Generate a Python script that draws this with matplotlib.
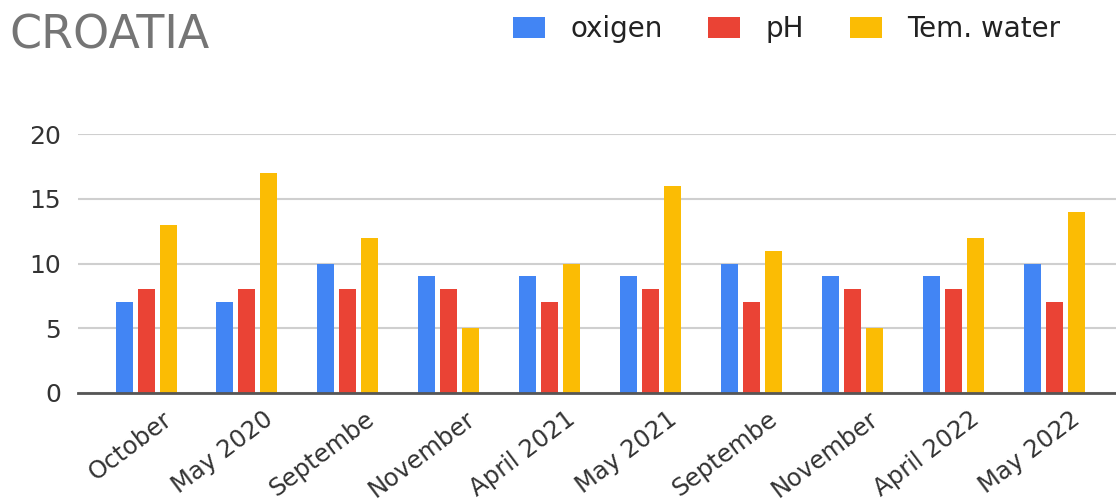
import matplotlib
matplotlib.use("Agg")
import matplotlib.pyplot as plt
import matplotlib.transforms as mtransforms
import numpy as np

categories = ["October", "May 2020", "Septembe", "November", "April 2021",
              "May 2021", "Septembe", "November", "April 2022", "May 2022"]
oxigen = [7, 7, 10, 9, 9, 9, 10, 9, 9, 10]
ph = [8, 8, 8, 8, 7, 8, 7, 8, 8, 7]
tem_water = [13, 17, 12, 5, 10, 16, 11, 5, 12, 14]
series_names = ["oxigen", "pH", "Tem. water"]
colors = ["#4285F4", "#EA4335", "#FBBC04"]
yticks = [0, 5, 10, 15, 20]

plt.rcParams['font.family'] = ['DejaVu Sans']

fig = plt.figure(figsize=(11.16, 5), dpi=100)
ax = fig.add_axes([78/1116, 107/500, 1038/1116, 259/500])

x = np.arange(len(categories))
w = 0.168
step = 0.218
for i, (vals, name, c) in enumerate(zip([oxigen, ph, tem_water], series_names, colors)):
    ax.bar(x + (i - 1) * step, vals, width=w, color=c, label=name, zorder=3)

ax.set_ylim(0, 20)
ax.set_xlim(-0.674, 9.61)
ax.set_yticks(yticks)
ax.set_yticklabels([str(t) for t in yticks], fontsize=18, color="#333333")
ax.yaxis.grid(True, color="#cfcfcf", linewidth=1.5, zorder=0)
ax.set_xticks(x)
ax.set_xticklabels(categories, rotation=37, ha="right", va="top", rotation_mode="anchor",
                   fontsize=17.5, color="#333333")
ax.tick_params(axis="both", length=0)
ax.tick_params(axis="y", pad=12)
ax.tick_params(axis="x", pad=10)
offset = mtransforms.ScaledTranslation(16/100, 0, fig.dpi_scale_trans)
for lbl in ax.get_xticklabels():
    lbl.set_transform(lbl.get_transform() + offset)
for s in ["top", "right", "left"]:
    ax.spines[s].set_visible(False)
ax.spines["bottom"].set_color("#555555")
ax.spines["bottom"].set_linewidth(2)
ax.spines["bottom"].set_zorder(4)

fig.text(9/1116, 1 - 36/500, "CROATIA", fontsize=33, color="#757575", va="center", ha="left")

leg = fig.legend(loc="center left", bbox_to_anchor=(505/1116, 1 - 29/500), ncol=3,
                 frameon=False, fontsize=20, handlelength=1.15, handleheight=0.8,
                 handletextpad=0.9, columnspacing=1.65, borderaxespad=0, borderpad=0.3)
for t in leg.get_texts():
    t.set_color("#222222")

fig.savefig("out.png", dpi=100)
